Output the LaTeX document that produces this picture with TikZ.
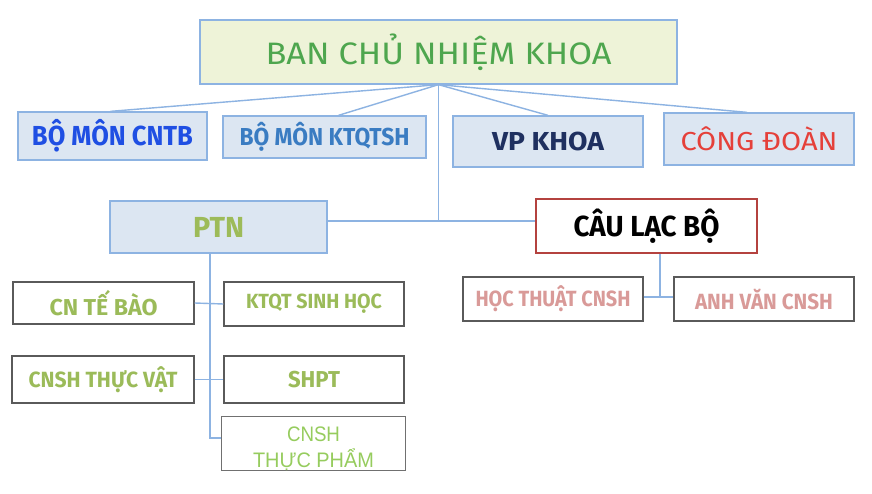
\documentclass[tikz,border=0pt]{standalone}
\usepackage{fontspec}
\usepackage{graphicx}
\setmainfont{Fira Sans}
\newfontfamily\arialf{Liberation Sans}
\makeatletter
\newlength\fitnat
\newcommand\fitx[2]{\settowidth\fitnat{#2}\scalebox{\fpeval{#1/\strip@pt\fitnat}}[1]{#2}}
\makeatother
\newcommand\fsz[1]{\fontsize{#1pt}{#1pt}\selectfont}
\begin{document}
\begin{tikzpicture}[x=1pt,y=-1pt,
  conn/.style={draw=lineblue, line width=1.4pt},
  bluebox/.style={draw=borderblue, fill=fillblue, line width=1.3pt, inner sep=0pt, align=center},
  greybox/.style={draw=boxgrey, fill=white, line width=1.4pt, inner sep=0pt, align=center},
]
\definecolor{lineblue}{HTML}{8DB3E2}
\definecolor{borderblue}{HTML}{8DB3E2}
\definecolor{fillblue}{HTML}{DCE6F2}
\definecolor{titlefill}{HTML}{EEF3D8}
\definecolor{titlegreen}{HTML}{4EA64E}
\definecolor{cntbblue}{HTML}{1F4FE3}
\definecolor{ktqtblue}{HTML}{3A7CC2}
\definecolor{navy}{HTML}{1F3060}
\definecolor{cdred}{HTML}{E5403A}
\definecolor{ptngreen}{HTML}{9DBB59}
\definecolor{leafgreen}{HTML}{9BBB59}
\definecolor{limegreen}{HTML}{96CC5E}
\definecolor{clbred}{HTML}{B4423F}
\definecolor{boxgrey}{HTML}{5A5A5A}
\definecolor{tpgrey}{HTML}{707070}
\definecolor{pinktext}{HTML}{D99A98}
\useasboundingbox[fill=white] (0,0) rectangle (872,494);

\node[bluebox, fill=titlefill, minimum width=477pt, minimum height=64pt, text=titlegreen, font=\fsz{31}] (title) at (438.5,52) {\fitx{346}{BAN CHỦ NHIỆM KHOA}};

\node[bluebox, minimum width=189pt, minimum height=48pt, text=cntbblue, font=\fsz{27.5}\bfseries] (cntb) at (112.5,136) {\fitx{161}{BỘ MÔN CNTB}};
\node[bluebox, minimum width=203pt, minimum height=42pt, text=ktqtblue, font=\fsz{24.5}\bfseries] (ktqtsh) at (324.5,137) {\fitx{170}{BỘ MÔN KTQTSH}};
\node[bluebox, minimum width=190pt, minimum height=51pt, text=navy, font=\fsz{26}\bfseries] (vp) at (548,141.5) {\fitx{112}{VP KHOA}};
\node[bluebox, minimum width=190pt, minimum height=52pt, text=cdred, font=\fsz{26}] (cd) at (759,139) {\fitx{157}{CÔNG ĐOÀN}};

\node[bluebox, minimum width=217pt, minimum height=52pt, text=ptngreen, font=\fsz{29}\bfseries] (ptn) at (218.5,227) {\fitx{51}{PTN}};
\node[draw=clbred, fill=white, line width=2.2pt, inner sep=0pt, minimum width=221pt, minimum height=54pt, font=\fsz{29}\bfseries] (clb) at (646.5,226) {\fitx{146}{CÂU LẠC BỘ}};

\node[greybox, minimum width=181pt, minimum height=42pt, text=leafgreen, font=\fsz{23}\bfseries] (cntebao) at (103.5,303) {\fitx{108}{CN TẾ BÀO}};
\node[greybox, minimum width=180pt, minimum height=44pt, text=leafgreen, font=\fsz{20.5}\bfseries] (ktqtsinh) at (314,304) {\fitx{136}{KTQT SINH HỌC}};
\node[greybox, minimum width=182pt, minimum height=47pt, text=leafgreen, font=\fsz{22}\bfseries] (cnshtv) at (103,379.5) {\fitx{149}{CNSH THỰC VẬT}};
\node[greybox, minimum width=180pt, minimum height=47pt, text=leafgreen, font=\fsz{23}\bfseries] (shpt) at (314,379.5) {\fitx{52}{SHPT}};
\node[greybox, draw=tpgrey, line width=1.5pt, minimum width=184pt, minimum height=54pt, text=limegreen, font=\arialf\fontsize{21pt}{25pt}\selectfont] (cnshtp) at (313.5,443.5) {\raisebox{-6pt}[\height][\depth]{\begin{tabular}{@{}c@{}}\fitx{53}{CNSH}\\\fitx{121}{THỰC PHẨM}\end{tabular}}};

\node[greybox, minimum width=180pt, minimum height=44pt, text=pinktext, font=\fsz{22}\bfseries] (hoc) at (553,299) {\fitx{155}{HỌC THUẬT CNSH}};
\node[greybox, minimum width=180pt, minimum height=44pt, text=pinktext, font=\fsz{22}\bfseries] (anh) at (764,299) {\fitx{138}{ANH VĂN CNSH}};

% connectors
\draw[conn] (title.south) -- ([xshift=-2pt]cntb.north);
\draw[conn] (title.south) -- ([xshift=14pt]ktqtsh.north);
\draw[conn] (title.south) -- (vp.north);
\draw[conn] (title.south) -- ([xshift=-12pt]cd.north);
\coordinate (j) at (438.5,221);
\draw[conn] (title.south) -- (j);
\draw[conn] (ptn.east |- j) -- (clb.west |- j);
\coordinate (p) at (210,438);
\draw[conn] (p |- ptn.south) -- (p) -- (cnshtp.west |- p);
\draw[conn] (cntebao.east) -- (ktqtsinh.west);
\draw[conn] (cnshtv.east) -- (shpt.west);
\coordinate (c) at (660,297);
\draw[conn] (c |- clb.south) -- (c);
\draw[conn] (hoc.east |- c) -- (anh.west |- c);
\end{tikzpicture}
\end{document}
